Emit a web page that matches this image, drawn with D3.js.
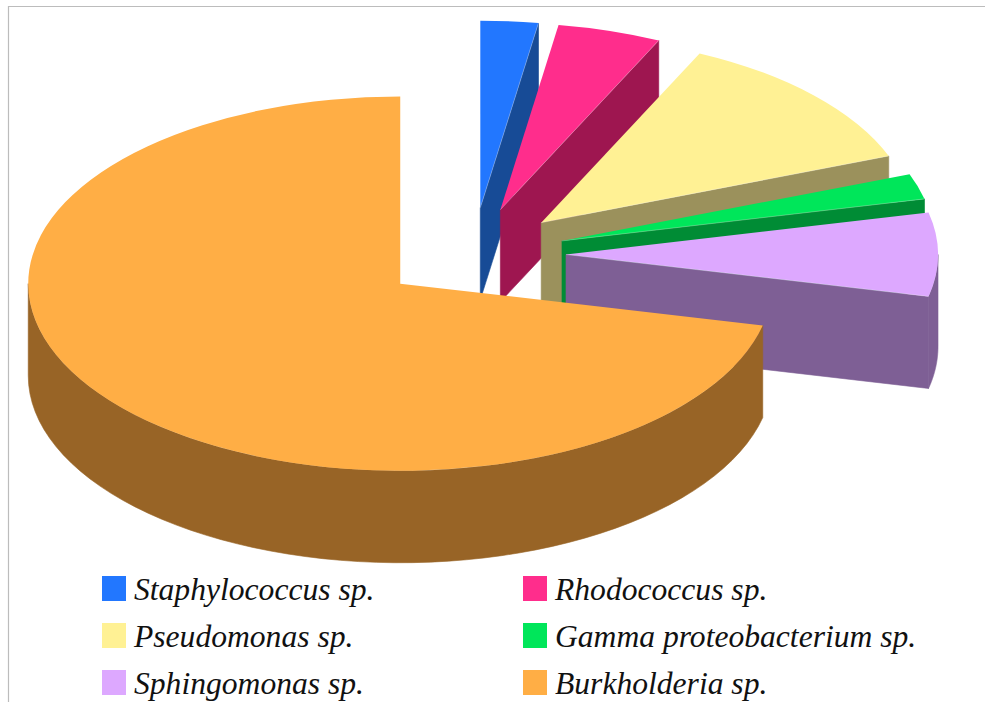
<!DOCTYPE html>
<html>
<head>
<meta charset="utf-8">
<script src="https://cdn.jsdelivr.net/npm/d3@7"></script>
<style>
html, body { margin: 0; padding: 0; background: #fff; }
svg { display: block; }
.legend text { font-family: "Liberation Serif", serif; font-style: italic; font-size: 31.6px; fill: #111; }
</style>
</head>
<body>
<svg id="chart" width="985" height="702"></svg>
<script>
// values, percent of isolates
var categories = ["Staphylococcus sp.", "Rhodococcus sp.", "Pseudomonas sp.", "Gamma proteobacterium sp.", "Sphingomonas sp.", "Burkholderia sp."];
var values = [2.5, 4.5, 12.2, 2.2, 7.2, 71.4];
var topColors = ["#2277ff", "#ff2d8c", "#fff194", "#00e65a", "#dda8ff", "#ffae45"];
var sideColors = ["#174b96", "#9e1650", "#9b915c", "#008c35", "#7e5f95", "#986426"];

var WIDTH = 985, HEIGHT = 702;
var CX = 473, CY = 254.5;    // pie centre before the slices are pulled out
var RADIUS = 372;
var SQUASH = 0.503;          // tilt of the pie
var DEPTH = 92;
var EXPLODE = 93;

var svg = d3.select("#chart");

// frame line along top and left
svg.append("path")
    .attr("d", "M8.5," + HEIGHT + "V6.5H" + WIDTH)
    .attr("fill", "none")
    .attr("stroke", "#bcbcbc")
    .attr("stroke-width", 1.2);

var arcs = d3.pie().sort(null).startAngle(0).endAngle(2 * Math.PI)(values);
var arc = d3.arc().innerRadius(0).outerRadius(RADIUS);
var line = d3.line();

function project(a, r) {
    return [r * Math.sin(a), -r * Math.cos(a) * SQUASH];
}

var g = svg.append("g");

arcs.forEach(function(d, i) {
    var mid = (d.startAngle + d.endAngle) / 2;
    var off = project(mid, EXPLODE);
    var slice = g.append("g")
        .attr("transform", "translate(" + (CX + off[0]) + "," + (CY + off[1]) + ")");

    // cut face on the clockwise end, seen from the front for all of these angles
    var rim = project(d.endAngle, RADIUS);
    if (Math.sin(d.endAngle) > 0.001) {
        slice.append("path")
            .attr("d", line([[0, 0], rim, [rim[0], rim[1] + DEPTH], [0, DEPTH]]) + "Z")
            .attr("fill", sideColors[i])
            .attr("stroke", sideColors[i])
            .attr("stroke-width", 0.6);
    }

    // outer wall, only the front half of the rim shows
    var a0 = Math.max(d.startAngle, Math.PI / 2);
    var a1 = Math.min(d.endAngle, 3 * Math.PI / 2);
    if (a1 > a0) {
        var rimPts = d3.range(0, 61).map(function(k) {
            return project(a0 + (a1 - a0) * k / 60, RADIUS);
        });
        var lower = rimPts.slice().reverse().map(function(p) {
            return [p[0], p[1] + DEPTH];
        });
        slice.append("path")
            .attr("d", line(rimPts.concat(lower)) + "Z")
            .attr("fill", sideColors[i])
            .attr("stroke", sideColors[i])
            .attr("stroke-width", 0.6);
    }

    // top surface
    slice.append("path")
        .attr("transform", "scale(1," + SQUASH + ")")
        .attr("d", arc(d))
        .attr("fill", topColors[i]);

    // faint highlight where the top meets the cut face
    if (Math.sin(d.endAngle) > 0.001) {
        slice.append("path")
            .attr("d", line([[0, 0], rim]))
            .attr("stroke", "#fff")
            .attr("stroke-opacity", 0.35)
            .attr("stroke-width", 0.8);
    }
});

// legend, two columns
var legendX = d3.scalePoint().domain([0, 1]).range([102, 523]);
var legendY = d3.scalePoint().domain([0, 1, 2]).range([576, 670]);

var legend = svg.append("g").attr("class", "legend");
categories.forEach(function(name, i) {
    var col = i % 2, row = Math.floor(i / 2);
    legend.append("rect")
        .attr("x", legendX(col))
        .attr("y", legendY(row))
        .attr("width", 24)
        .attr("height", 25)
        .attr("fill", topColors[i]);
    legend.append("text")
        .attr("x", legendX(col) + 32)
        .attr("y", legendY(row) + 24)
        .text(name);
});
</script>
</body>
</html>
